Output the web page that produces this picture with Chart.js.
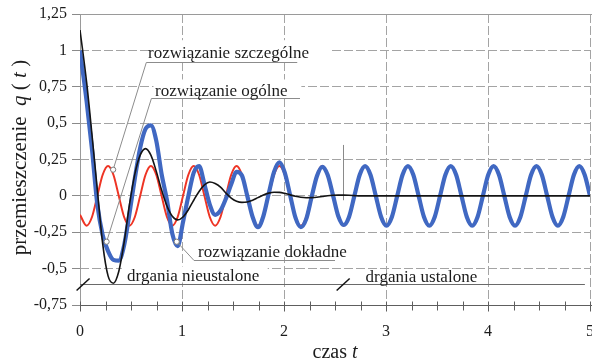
<!DOCTYPE html>
<html lang="pl">
<head>
<meta charset="utf-8">
<script src="https://cdn.jsdelivr.net/npm/chart.js@4.4.0/dist/chart.umd.min.js"></script>
<style>
  html, body { margin: 0; padding: 0; background: #ffffff; }
  #wrap { width: 592px; height: 364px; }
  canvas { display: block; }
</style>
</head>
<body>
<div id="wrap"><canvas id="wykres" width="592" height="364" style="width:592px;height:364px"></canvas></div>
<script>
// czas t
const czas = [0,
  0.065, 0.1175, 0.17, 0.2225, 0.275, 0.3275, 0.38, 0.4325,
  0.485, 0.5375, 0.59, 0.6425, 0.695, 0.7475, 0.8, 0.8525,
  0.905, 0.9575, 1.01, 1.0625, 1.115, 1.1675, 1.22, 1.2725,
  1.325, 1.3775, 1.43, 1.4825, 1.535, 1.5875, 1.64, 1.6925,
  1.745, 1.7975, 1.85, 1.9025, 1.955, 2.0075, 2.06, 2.1125,
  2.165, 2.2175, 2.27, 2.3225, 2.375, 2.4275, 2.48, 2.5325,
  2.585, 2.6375, 2.69, 2.7425, 2.795, 2.8475, 2.9, 2.9525,
  3.005, 3.0575, 3.11, 3.1625, 3.215, 3.2675, 3.32, 3.3725,
  3.425, 3.4775, 3.53, 3.5825, 3.635, 3.6875, 3.74, 3.7925,
  3.845, 3.8975, 3.95, 4.0025, 4.055, 4.1075, 4.16, 4.2125,
  4.265, 4.3175, 4.37, 4.4225, 4.475, 4.5275, 4.58, 4.6325,
  4.685, 4.7375, 4.79, 4.8425, 4.895, 4.9475, 5];

// rozwiązanie szczególne (drgania wymuszone)
const szczegolne = [-0.13,
  -0.205, -0.145, 0, 0.145, 0.205, 0.145, 0, -0.145,
  -0.205, -0.145, 0, 0.145, 0.205, 0.145, 0, -0.145,
  -0.205, -0.145, 0, 0.145, 0.205, 0.145, 0, -0.145,
  -0.205, -0.145, 0, 0.145, 0.205, 0.145, 0, -0.145,
  -0.205, -0.145, 0, 0.145, 0.205, 0.145, 0, -0.145,
  -0.205, -0.145, 0, 0.145, 0.205, 0.145, 0, -0.145,
  -0.205, -0.145, 0, 0.145, 0.205, 0.145, 0, -0.145,
  -0.205, -0.145, 0, 0.145, 0.205, 0.145, 0, -0.145,
  -0.205, -0.145, 0, 0.145, 0.205, 0.145, 0, -0.145,
  -0.205, -0.145, 0, 0.145, 0.205, 0.145, 0, -0.145,
  -0.205, -0.145, 0, 0.145, 0.205, 0.145, 0, -0.145,
  -0.205, -0.145, 0, 0.145, 0.205, 0.145, 0];

// rozwiązanie ogólne (drgania swobodne tłumione)
const ogolne = [1.14,
  0.78, 0.42, 0.04, -0.33, -0.55, -0.60, -0.52, -0.32,
  -0.06, 0.15, 0.28, 0.325, 0.28, 0.17, 0.04, -0.07,
  -0.14, -0.165, -0.145, -0.095, -0.03, 0.03, 0.075, 0.095,
  0.085, 0.06, 0.02, -0.015, -0.037, -0.045, -0.042, -0.03,
  -0.012, 0.006, 0.019, 0.025, 0.024, 0.017, 0.007, -0.003,
  -0.01, -0.013, -0.012, -0.009, -0.004, 0.001, 0.004, 0.005,
  0.005, 0.004, 0.002, 0, 0, 0, 0, 0,
  0, 0, 0, 0, 0, 0, 0, 0,
  0, 0, 0, 0, 0, 0, 0, 0,
  0, 0, 0, 0, 0, 0, 0, 0,
  0, 0, 0, 0, 0, 0, 0, 0,
  0, 0, 0, 0, 0, 0, 0];

// rozwiązanie dokładne
const dokladne = [1.0,
  0.65, 0.32, -0.06, -0.27, -0.38, -0.44, -0.445, -0.34,
  -0.12, 0.12, 0.33, 0.46, 0.485, 0.38, 0.15, -0.03,
  -0.26, -0.345, -0.18, 0.0, 0.16, 0.205, 0.08, -0.06,
  -0.13, -0.10, -0.02, 0.08, 0.165, 0.14, 0.0, -0.145,
  -0.215, -0.14, 0.015, 0.165, 0.23, 0.16, 0.005, -0.15,
  -0.215, -0.16, -0.01, 0.135, 0.20, 0.145, 0.005, -0.14,
  -0.20, -0.145, 0, 0.145, 0.205, 0.145, 0, -0.145,
  -0.205, -0.145, 0, 0.145, 0.205, 0.145, 0, -0.145,
  -0.205, -0.145, 0, 0.145, 0.205, 0.145, 0, -0.145,
  -0.205, -0.145, 0, 0.145, 0.205, 0.145, 0, -0.145,
  -0.205, -0.145, 0, 0.145, 0.205, 0.145, 0, -0.145,
  -0.205, -0.145, 0, 0.145, 0.205, 0.145, 0];

const xTickLabels = ['0', '1', '2', '3', '4', '5'];
const yTickLabels = ['-0,75', '-0,5', '-0,25', '0', '0,25', '0,5', '0,75', '1', '1,25'];

const SERIF = '"Liberation Serif", "Times New Roman", Times, serif';
const GRID = '#a4a4a4';
const TEXT = '#1c1c1c';

function odcinek(ctx, x1, y1, x2, y2) {
  ctx.beginPath();
  ctx.moveTo(x1, y1);
  ctx.lineTo(x2, y2);
  ctx.stroke();
}

// text made of plain and italic pieces, centred on (cx, cy)
function tekstMieszany(ctx, czesci, size, cx, cy) {
  const fonty = czesci.map(([, it]) => (it ? 'italic ' : '') + size + 'px ' + SERIF);
  let w = 0;
  czesci.forEach(([s], i) => { ctx.font = fonty[i]; w += ctx.measureText(s).width; });
  let x = cx - w / 2;
  ctx.textAlign = 'left';
  ctx.textBaseline = 'middle';
  czesci.forEach(([s], i) => {
    ctx.font = fonty[i];
    ctx.fillText(s, x, cy);
    x += ctx.measureText(s).width;
  });
}

// labelled curves: anchor circle, elbow of the leader, end of underline, text start and baseline
const opisy = [
  { tekst: 'rozwiązanie szczególne', kolo: [0.325, 0.18], kolano: [0.65, 0.92], koniec: 2.13,
    tx: 0.667, ty: 0.95, tlo: [0.69, 2.45, 1.07, 0.94] },
  { tekst: 'rozwiązanie ogólne', kolo: [0.261, -0.315], kolano: [0.70, 0.67], koniec: 2.157,
    tx: 0.735, ty: 0.687, tlo: [0.72, 2.17, 0.80, 0.685] },
  { tekst: 'rozwiązanie dokładne', kolo: [0.948, -0.315], kolano: [1.118, -0.44], koniec: 2.5,
    tx: 1.157, ty: -0.42, tlo: [1.14, 2.58, -0.30, -0.42] }
];

const dekoracje = {
  id: 'dekoracje',
  beforeDatasetsDraw(chart) {
    const { ctx, chartArea: a, scales: { x, y } } = chart;
    ctx.save();
    ctx.lineWidth = 1;
    // frame: top edge and left axis
    ctx.strokeStyle = '#9a9a9a';
    const yTop = Math.round(y.getPixelForValue(1.25)) + 0.5;
    odcinek(ctx, a.left, yTop, chart.width, yTop);
    const xL = Math.round(x.getPixelForValue(0)) + 0.5;
    odcinek(ctx, xL, a.top, xL, a.bottom);
    // bottom axis with ticks every 0.25
    ctx.strokeStyle = '#5e5e5e';
    const yB = Math.round(y.getPixelForValue(-0.75)) + 0.5;
    odcinek(ctx, a.left, yB, chart.width, yB);
    for (let i = 0; i <= 20; i++) {
      const xx = Math.round(x.getPixelForValue(i * 0.25)) + 0.5;
      const dl = i % 4 === 0 ? 6 : 5;
      odcinek(ctx, xx, yB - 4, xx, yB + dl);
    }
    // boundary between transient and steady vibration
    ctx.strokeStyle = '#8a8a8a';
    const xs = Math.round(x.getPixelForValue(2.58)) + 0.5;
    odcinek(ctx, xs, y.getPixelForValue(0.35), xs, y.getPixelForValue(-0.03));
    ctx.restore();
  },
  afterDatasetsDraw(chart) {
    const { ctx, chartArea: a, scales: { x, y } } = chart;
    const X = t => x.getPixelForValue(t);
    const Y = q => y.getPixelForValue(q);
    ctx.save();

    // white boxes behind the captions
    ctx.fillStyle = '#ffffff';
    opisy.forEach(o => {
      const [t1, t2, q1, q2] = o.tlo;
      ctx.fillRect(X(t1), Y(q1), X(t2) - X(t1), Y(q2) - Y(q1));
    });
    ctx.fillRect(X(0.41), Y(-0.485), X(1.84) - X(0.41), Y(-0.595) - Y(-0.485));

    // leaders and underlines
    ctx.strokeStyle = '#8c8c8c';
    ctx.lineWidth = 1;
    opisy.forEach(o => {
      const yk = Math.round(Y(o.kolano[1])) + 0.5;
      ctx.beginPath();
      ctx.moveTo(X(o.kolo[0]), Y(o.kolo[1]));
      ctx.lineTo(X(o.kolano[0]), yk);
      ctx.lineTo(X(o.koniec), yk);
      ctx.stroke();
    });

    // captions
    ctx.fillStyle = TEXT;
    ctx.font = '17px ' + SERIF;
    ctx.textAlign = 'left';
    ctx.textBaseline = 'alphabetic';
    opisy.forEach(o => ctx.fillText(o.tekst, X(o.tx), Y(o.ty)));

    // anchor circles
    ctx.fillStyle = '#ffffff';
    ctx.strokeStyle = '#7a7a7a';
    opisy.forEach(o => {
      ctx.beginPath();
      ctx.arc(X(o.kolo[0]), Y(o.kolo[1]), 2.6, 0, Math.PI * 2);
      ctx.fill();
      ctx.stroke();
    });

    // transient / steady vibration ranges
    const yr = Math.round(Y(-0.609)) + 0.5;
    ctx.strokeStyle = '#6a6a6a';
    odcinek(ctx, a.left, yr, X(4.95), yr);
    ctx.fillStyle = TEXT;
    ctx.font = '17px ' + SERIF;
    ctx.fillText('drgania nieustalone', X(0.461), Y(-0.585));
    ctx.fillText('drgania ustalone', X(2.80), Y(-0.59));
    ctx.strokeStyle = '#111111';
    ctx.lineWidth = 1.5;
    [0.03, 2.58].forEach(t => {
      const cx = X(t), cy = Y(-0.609);
      odcinek(ctx, cx - 6.5, cy + 6, cx + 6.5, cy - 6);
    });

    // axis titles
    ctx.fillStyle = TEXT;
    ctx.save();
    ctx.translate(20, (a.top + a.bottom) / 2 - 2);
    ctx.rotate(-Math.PI / 2);
    tekstMieszany(ctx, [['przemieszczenie  ', false], ['q', true], [' ( ', false], ['t', true], [' )', false]], 21, 0, 0);
    ctx.restore();
    tekstMieszany(ctx, [['czas ', false], ['t', true]], 20, (a.left + a.right) / 2, 353);
    ctx.restore();
  }
};

const punkty = wartosci => czas.map((t, i) => ({ x: t, y: wartosci[i] }));

new Chart(document.getElementById('wykres'), {
  type: 'line',
  data: {
    datasets: [
      { label: 'rozwiązanie ogólne', data: punkty(ogolne), borderColor: '#141414', borderWidth: 1.6, order: 0 },
      { label: 'rozwiązanie dokładne', data: punkty(dokladne), borderColor: '#4068c2', borderWidth: 4.2, order: 1 },
      { label: 'rozwiązanie szczególne', data: punkty(szczegolne), borderColor: '#ee3424', borderWidth: 2, order: 2 }
    ]
  },
  options: {
    responsive: false,
    animation: false,
    devicePixelRatio: 1,
    layout: { padding: { top: 14, right: 2, left: 0, bottom: 0 } },
    elements: {
      point: { radius: 0, hoverRadius: 0 },
      line: { cubicInterpolationMode: 'monotone', fill: false }
    },
    plugins: { legend: { display: false }, tooltip: { enabled: false } },
    scales: {
      x: {
        type: 'linear', min: 0, max: 5,
        ticks: {
          stepSize: 1, padding: 17, color: TEXT, maxRotation: 0,
          font: { family: SERIF, size: 16 },
          callback: (v, i) => xTickLabels[i]
        },
        grid: {
          drawTicks: false, lineWidth: 1,
          color: c => (c.tick && c.tick.value > 0) ? GRID : 'rgba(0,0,0,0)'
        },
        border: { display: false, dash: [9, 3] },
        afterFit: s => { s.height = 59; s.paddingLeft = 0; s.paddingRight = 0; }
      },
      y: {
        min: -0.75, max: 1.25,
        ticks: {
          stepSize: 0.25, padding: 5, color: TEXT,
          font: { family: SERIF, size: 16 },
          callback: (v, i) => yTickLabels[i]
        },
        grid: {
          drawTicks: true, tickLength: 8, tickColor: '#8a8a8a', lineWidth: 1,
          color: c => (c.tick && c.tick.value > -0.74 && c.tick.value < 1.24) ? GRID : 'rgba(0,0,0,0)'
        },
        border: { display: false, dash: [9, 3] },
        afterFit: s => { s.width = 80; s.paddingTop = 0; s.paddingBottom = 0; }
      }
    }
  },
  plugins: [dekoracje]
});
</script>
</body>
</html>
